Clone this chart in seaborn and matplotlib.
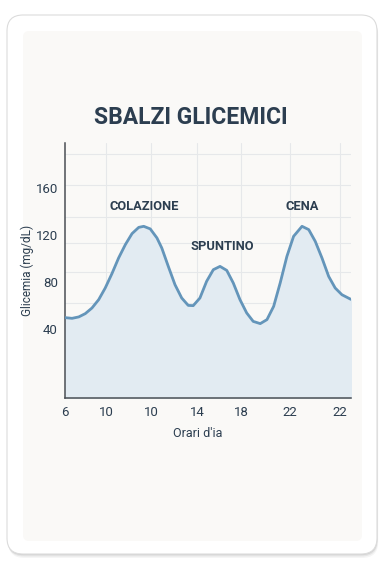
"""
plot.py
───────
Card-style chart of blood sugar swings across the day.
Run:  python plot.py  ->  out.png
"""

import warnings
warnings.filterwarnings("ignore")

import matplotlib
matplotlib.use("Agg")
import matplotlib.pyplot as plt
import matplotlib.transforms as mtrans
from matplotlib.patches import FancyBboxPatch
import seaborn as sns
import pandas as pd

# ─── data ────────────────────────────────────────────────────────────────────
hours = [6.00, 6.41, 6.80, 7.18, 7.57, 7.96, 8.34, 8.73, 9.12, 9.51,
         9.90, 10.29, 10.58, 10.96, 11.35, 11.63, 12.01, 12.40, 12.79,
         13.17, 13.46, 13.85, 14.24, 14.63, 15.02, 15.41, 15.79, 16.18,
         16.57, 16.95, 17.36, 17.75, 18.14, 18.52, 18.91, 19.30, 19.79,
         20.18, 20.56, 20.95, 21.34, 21.72, 22.11, 22.64]
glucose = [49.4, 48.8, 50.0, 52.8, 57.6, 64.7, 74.6, 86.8, 100.2, 111.5,
           120.9, 126.2, 127.1, 124.9, 117.2, 108.7, 93.0, 77.4, 66.1,
           59.8, 59.6, 66.1, 80.3, 90.2, 93.0, 89.6, 78.9, 64.7,
           53.4, 46.2, 44.3, 47.7, 59.0, 78.9, 101.5, 118.6, 127.1,
           124.3, 114.3, 100.2, 84.5, 74.6, 68.9, 64.9]

x_ticks = [6.0, 8.39, 11.0, 13.68, 16.24, 19.09, 22.0]
x_labels = ["6", "10", "10", "14", "18", "22", "22"]
y_ticks = [40, 80, 120, 160]
y_grid = [-6, 16, 39, 62, 88, 113, 135, 162, 189]

meals = ["COLAZIONE", "SPUNTINO", "CENA"]
meal_hours = [10.6, 15.16, 19.79]
meal_label_y = [143.8, 110.0, 143.8]

df = pd.DataFrame({"hour": hours, "glucose": glucose})

# ─── style ───────────────────────────────────────────────────────────────────
LINE = "#6495ba"
FILL = "#e2ebf2"
TEXT = "#2c3e50"
PANEL = "#faf9f7"

sns.set_theme(style="white")
plt.rcParams["font.family"] = ["Roboto", "DejaVu Sans"]

fig = plt.figure(figsize=(3.84, 5.76), dpi=100)
fig.patch.set_facecolor("white")

# card + shadow (pixel coords)
px = mtrans.IdentityTransform()
for off, a in [(4, 0.04), (2.5, 0.06), (1.2, 0.08)]:
    fig.patches.append(FancyBboxPatch((7 + off * 0.3, 22 - off), 370, 539,
                       boxstyle="round,pad=0,rounding_size=16",
                       transform=px, facecolor="black", alpha=a,
                       edgecolor="none", zorder=0))
fig.patches.append(FancyBboxPatch((7, 22), 370, 539,
                   boxstyle="round,pad=0,rounding_size=16", transform=px,
                   facecolor="white", edgecolor="#dcdcdc", linewidth=0.8,
                   zorder=1))
fig.patches.append(FancyBboxPatch((23, 35), 339, 510,
                   boxstyle="round,pad=0,rounding_size=6", transform=px,
                   facecolor=PANEL, edgecolor="none", zorder=2))

# ─── chart ───────────────────────────────────────────────────────────────────
ax = fig.add_axes([65 / 384, 1 - 398 / 576, 286 / 384, 255 / 576])
ax.set_facecolor("none")
ax.set_zorder(3)

ymin = -19
ax.fill_between(df["hour"], df["glucose"], ymin, color=FILL, zorder=1)
sns.lineplot(data=df, x="hour", y="glucose", ax=ax, color=LINE,
             linewidth=2.0, zorder=3, solid_joinstyle="round",
             solid_capstyle="round")

ax.set_xlim(6.0, 22.64)
ax.set_ylim(ymin, 198)

ax.set_xticks(x_ticks)
ax.set_xticklabels(x_labels)
ax.set_yticks(y_ticks)
ax.set_yticks(y_grid, minor=True)
ax.tick_params(axis="both", which="both", length=0, labelsize=9.5,
               colors=TEXT, pad=6)
ax.tick_params(axis="y", pad=5)

ax.grid(False)
for xv in x_ticks[1:]:
    ax.axvline(xv, color="#e6e8ea", linewidth=0.8, zorder=0.5)
for yv in y_grid:
    ax.axhline(yv, color="#e6e8ea", linewidth=0.8, zorder=0.5)

for side in ["top", "right"]:
    ax.spines[side].set_visible(False)
for side in ["left", "bottom"]:
    ax.spines[side].set_color("#4a4f55")
    ax.spines[side].set_linewidth(1.1)

ax.set_xlabel("Orari d'ia", fontsize=9, color=TEXT, labelpad=7)
ax.xaxis.set_label_coords(0.465, -0.115)
ax.set_ylabel("Glicemia (mg/dL)", fontsize=8.5, color=TEXT, labelpad=1)

for name, h, yv in zip(meals, meal_hours, meal_label_y):
    ax.text(h, yv, name, ha="center", va="center", fontsize=9.3,
            fontweight="bold", color=TEXT, zorder=4)

fig.text(191 / 384, 1 - 117 / 576, "SBALZI GLICEMICI", ha="center",
         va="center", fontsize=16.5, fontweight="bold", color=TEXT,
         zorder=4)

fig.savefig("out.png", dpi=100)
plt.close(fig)
